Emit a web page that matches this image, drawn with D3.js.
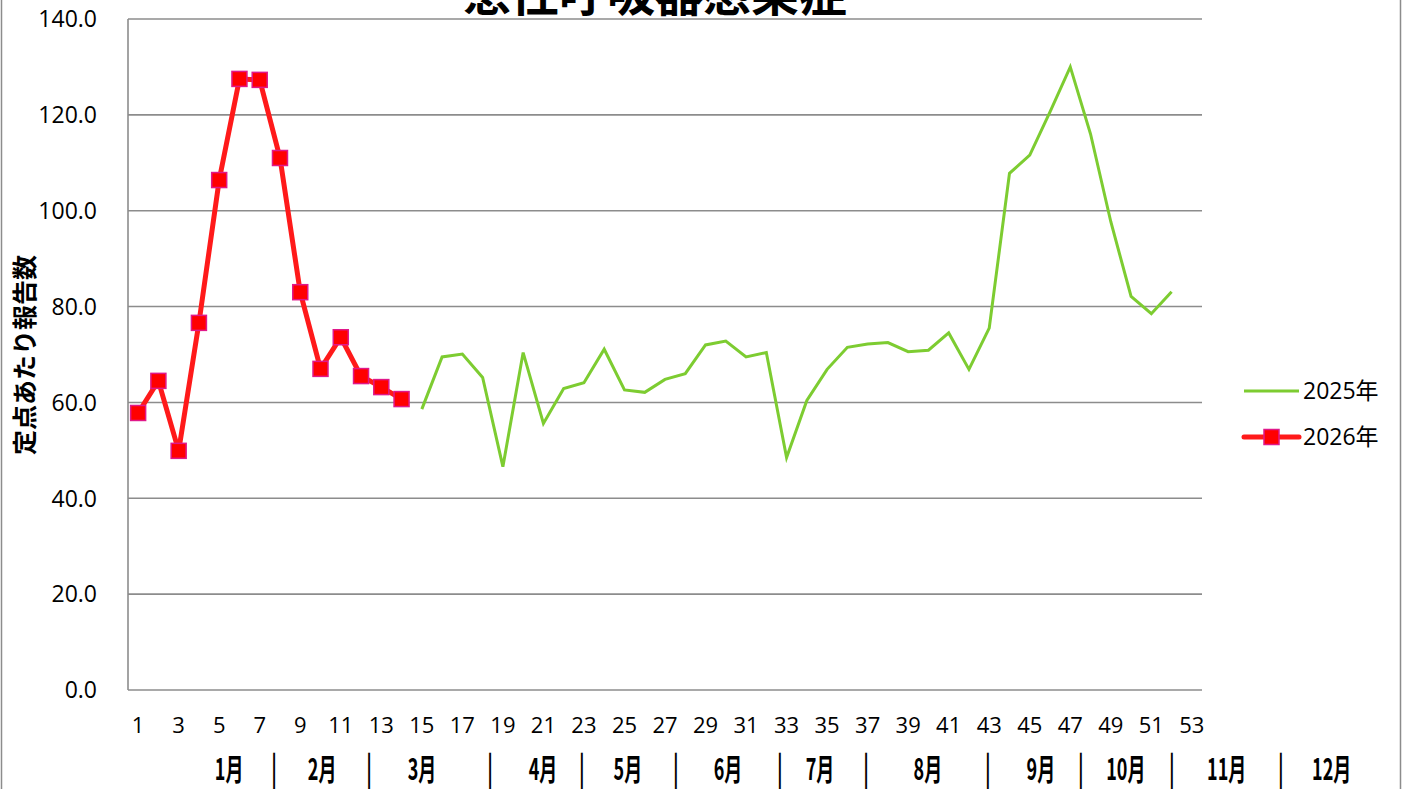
<!DOCTYPE html>
<html><head><meta charset="utf-8">
<script src="https://cdn.jsdelivr.net/npm/d3@7"></script>
<style>html,body{margin:0;padding:0;background:#fff;overflow:hidden}</style>
</head><body>
<svg id="c" width="1402" height="789"></svg>
<script>
const title = "急性呼吸器感染症";
const yTitle = "定点あたり報告数";
const weeks = d3.range(1, 54);
const yTicks = [0, 20, 40, 60, 80, 100, 120, 140];
const seriesNames = ["2025年", "2026年"];
// 2025: weeks 1-14 not shown
const values2025 = [null,null,null,null,null,null,null,null,null,null,null,null,null,null,
  58.6, 69.5, 70.1, 65.2, 46.6, 70.4, 55.6, 62.9, 64.1, 71.1,
  62.6, 62.1, 64.8, 66.0, 72.0, 72.8, 69.5, 70.4, 48.5, 60.4,
  66.9, 71.5, 72.2, 72.5, 70.6, 70.9, 74.5, 66.9, 75.5, 107.8,
  111.6, 120.6, 130.0, 116.0, 97.7, 82.1, 78.5, 83.1];
const values2026 = [57.8, 64.5, 49.9, 76.6, 106.4, 127.5, 127.3, 111.0, 83.0, 67.0,
  73.6, 65.5, 63.2, 60.7];
const monthLabels = ["1月","|","2月","|","3月","|","4月","|","5月","|","6月","|","7月","|","8月","|","9月","|","10月","|","11月","|","12月"];
const monthWeekPos = [5.49,7.71,10.08,12.40,15.01,18.37,20.98,22.90,25.17,27.54,30.11,32.67,34.65,36.92,39.97,42.93,45.55,47.52,49.74,52.01,54.72,57.39,59.90];

const svg = d3.select("#c");
const L = 128, R = 1202, T = 19, B = 690;
const x = d3.scaleBand().domain(weeks).range([L, R]).padding(0);
const xc = w => x(w) + x.bandwidth() / 2;
const xw = d3.scaleLinear().domain([1, 53]).range([xc(1), xc(53)]);
const y = d3.scaleLinear().domain([0, 140]).range([B, T]);
const font = "'Open Sans','Noto Sans CJK JP',sans-serif";

// outer border
svg.append("line").attr("x1",1.5).attr("x2",1.5).attr("y1",0).attr("y2",789).attr("stroke","#8c8c8c").attr("stroke-width",1.5);
svg.append("line").attr("x1",1400.5).attr("x2",1400.5).attr("y1",0).attr("y2",789).attr("stroke","#8c8c8c").attr("stroke-width",1.5);

// gridlines
svg.append("g").selectAll("line").data(yTicks.filter(d => d > 0)).join("line")
  .attr("x1", L).attr("x2", R).attr("y1", d => y(d)).attr("y2", d => y(d))
  .attr("stroke", "#8c8c8c").attr("stroke-width", 1.6);

// axes
svg.append("line").attr("x1", L).attr("x2", L).attr("y1", T).attr("y2", B).attr("stroke", "#8c8c8c").attr("stroke-width", 1.6);
svg.append("line").attr("x1", L).attr("x2", R).attr("y1", B).attr("y2", B).attr("stroke", "#8c8c8c").attr("stroke-width", 1.6);

// y tick labels
svg.append("g").selectAll("text").data(yTicks).join("text")
  .attr("x", 97).attr("y", d => y(d)).attr("dy", "0.36em")
  .attr("text-anchor", "end").attr("font-family", font).attr("font-size", 23)
  .attr("fill", "#000").text(d => d.toFixed(1));

// x tick labels
svg.append("g").selectAll("text").data(weeks.filter(w => w % 2 === 1)).join("text")
  .attr("x", d => xc(d)).attr("y", 725).attr("dy", "0.36em")
  .attr("text-anchor", "middle").attr("font-family", font).attr("font-size", 22)
  .attr("fill", "#000").text(d => d);

// month row (condensed)
svg.append("g").selectAll("text").data(monthLabels).join("text")
  .attr("transform", (d, i) => `translate(${xw(monthWeekPos[i])},780) scale(0.6,1)`)
  .attr("text-anchor", "middle").attr("font-family", "'Noto Sans CJK JP',sans-serif")
  .attr("font-weight", "bold").attr("font-size", d => d === "|" ? 32 : 30)
  .attr("fill", "#000").text(d => d);

// title (cut at the top edge, as in the reference)
svg.append("text").attr("x", 655).attr("y", 11).attr("text-anchor", "middle")
  .attr("font-family", "'Noto Sans CJK JP',sans-serif").attr("font-weight", "bold")
  .attr("font-size", 48).attr("fill", "#000").text(title);

// y title
svg.append("text").attr("transform", "translate(34,355) rotate(-90)").attr("text-anchor", "middle")
  .attr("font-family", "'Noto Sans CJK JP',sans-serif").attr("font-weight", "bold")
  .attr("font-size", 25).attr("fill", "#000").text(yTitle);

// lines
const line = d3.line().defined(d => d.v != null).x(d => xc(d.w)).y(d => y(d.v));
const d25 = values2025.map((v, i) => ({w: i + 1, v}));
const d26 = values2026.map((v, i) => ({w: i + 1, v}));
const green = "#7dcc31", red = "#ff1a1a";
svg.append("path").datum(d25).attr("d", line).attr("fill", "none")
  .attr("stroke", green).attr("stroke-width", 3).attr("stroke-linejoin", "miter");
svg.append("path").datum(d26).attr("d", line).attr("fill", "none")
  .attr("stroke", red).attr("stroke-width", 5).attr("stroke-linejoin", "round");
const ms = 15;
svg.append("g").selectAll("rect").data(d26).join("rect")
  .attr("x", d => xc(d.w) - ms / 2).attr("y", d => y(d.v) - ms / 2)
  .attr("width", ms).attr("height", ms)
  .attr("fill", "#ff0000").attr("stroke", "#e0188a").attr("stroke-width", 1.5);

// legend
const lg = svg.append("g");
const ly = [391, 437];
lg.append("line").attr("x1", 1244).attr("x2", 1299).attr("y1", ly[0]).attr("y2", ly[0]).attr("stroke", green).attr("stroke-width", 3);
lg.append("line").attr("x1", 1244).attr("x2", 1299).attr("y1", ly[1]).attr("y2", ly[1]).attr("stroke", red).attr("stroke-width", 5).attr("stroke-linecap", "round");
lg.append("rect").attr("x", 1271.5 - ms / 2).attr("y", ly[1] - ms / 2).attr("width", ms).attr("height", ms)
  .attr("fill", "#ff0000").attr("stroke", "#e0188a").attr("stroke-width", 1.5);
lg.selectAll("text").data(seriesNames).join("text")
  .attr("x", 1303).attr("y", (d, i) => ly[i]).attr("dy", "0.36em")
  .attr("font-family", font).attr("font-size", 23).attr("fill", "#000").text(d => d);
</script>
</body></html>
